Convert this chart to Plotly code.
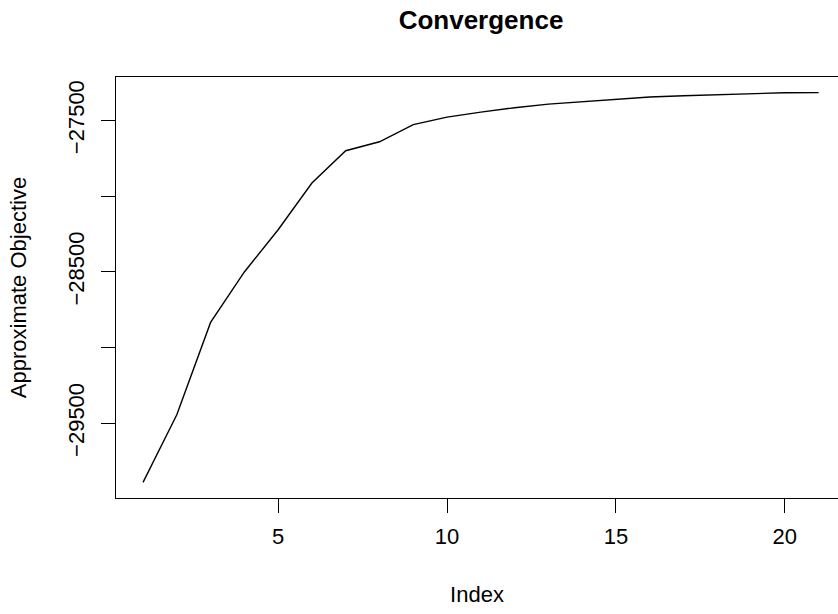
import plotly.graph_objects as go

# Approximate objective value recorded at each iteration
index = list(range(1, 22))
objective = [-29891, -29444, -28834, -28501, -28222, -27913, -27700, -27641,
             -27528, -27478, -27445, -27416, -27392, -27375, -27361, -27345,
             -27337, -27330, -27324, -27317, -27316]

x_ticks = [5, 10, 15, 20]
y_ticks = [-29500, -29000, -28500, -28000, -27500]
y_tick_text = ["\u221229500", "", "\u221228500", "", "\u221227500"]

FONT = "Liberation Sans, Arial, Helvetica, sans-serif"

fig = go.Figure(
    go.Scatter(
        x=index,
        y=objective,
        mode="lines",
        line=dict(color="black", width=1.4),
        hoverinfo="skip",
    )
)

fig.update_layout(
    width=838,
    height=614,
    margin=dict(l=116, r=0, t=77, b=116),
    paper_bgcolor="white",
    plot_bgcolor="white",
    showlegend=False,
    font=dict(family=FONT, color="black", size=22),
    title=dict(
        text="<b>Convergence</b>",
        font=dict(family=FONT, size=26, color="black"),
        x=(116 + 846) / 2 / 838,
        xanchor="center",
        xref="container",
        yref="container",
        y=1 - 20 / 614,
        yanchor="middle",
    ),
)

fig.update_xaxes(
    range=[0.2, 21.574],
    tickvals=x_ticks,
    ticktext=[str(v) for v in x_ticks],
    ticks="outside",
    ticklen=14,
    tickwidth=1.3,
    tickcolor="black",
    showline=True,
    linecolor="black",
    linewidth=1.3,
    mirror=True,
    showgrid=False,
    zeroline=False,
    tickfont=dict(size=22),
    ticklabelstandoff=4,
    title=dict(text="Index", font=dict(size=22), standoff=39),
)

fig.update_yaxes(
    range=[-29994, -27213],
    tickvals=y_ticks,
    ticktext=y_tick_text,
    tickangle=-90,
    ticks="outside",
    ticklen=14,
    tickwidth=1.3,
    tickcolor="black",
    showline=True,
    linecolor="black",
    linewidth=1.3,
    mirror=False,
    showgrid=False,
    zeroline=False,
    tickfont=dict(size=22),
    ticklabelstandoff=8,
    title=dict(text="Approximate Objective", font=dict(size=22), standoff=31),
)

fig.write_html("out.html")
